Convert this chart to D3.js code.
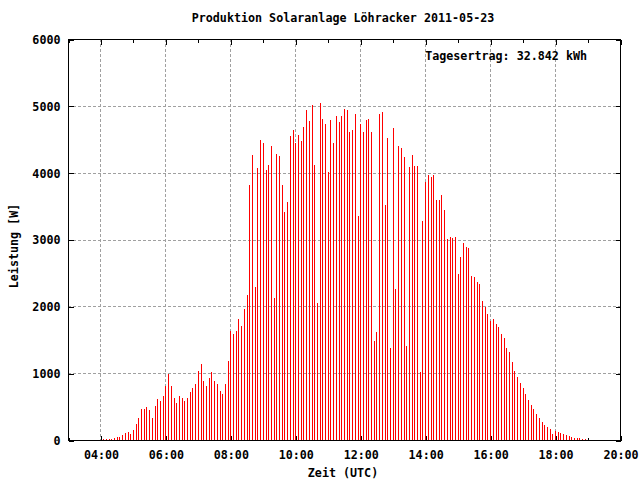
<!DOCTYPE html>
<html><head><meta charset="utf-8">
<script src="https://cdn.jsdelivr.net/npm/d3@7"></script>
<style>body{margin:0;background:#fff}svg text{font-family:"DejaVu Sans Mono","Liberation Mono",monospace;font-weight:bold;font-size:11.7px;fill:#000}</style>
</head><body>
<script>
const title = "Produktion Solaranlage Löhracker 2011-05-23";
const yLabel = "Leistung [W]";
const xLabel = "Zeit (UTC)";
const yieldLabel = "Tagesertrag: 32.842 kWh";
const day = "2011-05-23";
const firstSample = "04:05";
const stepMinutes = 5;
const power = [
  15,15,15,15,30,45,45,75,105,120,90,150,240,330,465,465,495,450,330,510,615,585,660,810,990,810,630,555,660,630,585,630,720,780,840,
  1033,1137,883,808,928,1018,883,838,733,688,838,1182,1631,1586,1631,1811,1706,1960,2170,3816,4265,2290,4070,4490,4450,4040,4115,4400,2125,4280,4250,3816,3412,3562,4549,4639,
  4439,4564,4474,4684,4938,4774,5013,4115,2050,5043,4803,4729,4010,4789,4444,4848,4759,4848,4953,4938,4609,4639,4878,3352,4729,4609,4789,4803,4609,1481,1616,4878,4908,3516,4519,1377,4669,
  2260,4400,4370,4235,1407,4085,4265,4100,4100,1018,3277,3861,3966,3936,3966,3591,3591,3666,3442,3008,3038,3023,3038,2484,2738,2948,2888,2873,2454,2439,2364,2334,2080,1990,1885,1781,1811,
  1736,1691,1586,1526,1377,1317,1167,1033,943,853,778,688,599,524,464,389,329,269,224,195,165,90,135,120,105,90,75,60,45,30,30,30,15,15
];
const xTickLabels = ["04:00","06:00","08:00","10:00","12:00","14:00","16:00","18:00","20:00"];
const yTickValues = [0,1000,2000,3000,4000,5000,6000];
const xDomain = ["03:00","20:00"];

const W = 640, H = 480;
const L = 68, R = 620, T = 39, B = 440;
const parse = s => new Date(`${day}T${s}:00Z`);
const t0 = parse(firstSample);
const samples = power.map((v, i) => ({t: new Date(+t0 + i * stepMinutes * 60000), v}));

const svg = d3.select("body").append("svg").attr("width", W).attr("height", H)
  .attr("shape-rendering", "crispEdges");

const x = d3.scaleUtc().domain(xDomain.map(parse)).range([L, R]);
const y = d3.scaleLinear().domain([0, 6000]).range([B, T]);

const majorX = xTickLabels.map(parse);
const minorX = d3.utcHour.range(parse(xDomain[0]), parse(xDomain[1])).filter(d => d.getUTCHours() % 2 === 1);

// grid
const grid = svg.append("g").attr("stroke", "#a0a0a0").attr("stroke-dasharray", "3,2").attr("stroke-width", 1);
majorX.filter(d => x(d) < R - 1).forEach(d => {
  const xx = Math.round(x(d)) + 0.5;
  grid.append("line").attr("x1", xx).attr("x2", xx).attr("y1", T).attr("y2", B);
});
yTickValues.filter(v => v > 0 && v < 6000).forEach(v => {
  const yy = Math.round(y(v)) + 0.5;
  grid.append("line").attr("x1", L).attr("x2", R).attr("y1", yy).attr("y2", yy);
});

// axes with inward ticks (drawn before impulses)
const fmt = d3.utcFormat("%H:%M");
const axB = svg.append("g").attr("transform", `translate(0.5,${B + 0.5})`)
  .call(d3.axisBottom(x).tickValues(majorX).tickFormat(fmt).tickSizeInner(-5).tickSizeOuter(0).tickPadding(13));
const axT = svg.append("g").attr("transform", `translate(0.5,${T + 0.5})`)
  .call(d3.axisTop(x).tickValues(majorX).tickFormat("").tickSizeInner(-5).tickSizeOuter(0));
const axBm = svg.append("g").attr("transform", `translate(0.5,${B + 0.5})`)
  .call(d3.axisBottom(x).tickValues(minorX).tickFormat("").tickSizeInner(-3).tickSizeOuter(0));
const axTm = svg.append("g").attr("transform", `translate(0.5,${T + 0.5})`)
  .call(d3.axisTop(x).tickValues(minorX).tickFormat("").tickSizeInner(-3).tickSizeOuter(0));
const axL = svg.append("g").attr("transform", `translate(${L + 0.5},0.5)`)
  .call(d3.axisLeft(y).tickValues(yTickValues).tickFormat(d3.format("d")).tickSizeInner(-5).tickSizeOuter(0).tickPadding(12));
const axR = svg.append("g").attr("transform", `translate(${R + 0.5},0.5)`)
  .call(d3.axisRight(y).tickValues(yTickValues).tickFormat("").tickSizeInner(-5).tickSizeOuter(0));
[axB, axT, axBm, axTm, axL, axR].forEach(a => {
  a.select(".domain").remove();
  a.selectAll("line").attr("stroke", "#000");
  a.selectAll("text").attr("font-family", null).attr("font-size", null).attr("fill", "#000");
});
axB.selectAll("text").attr("dy", null).attr("y", 18);
axL.selectAll("text").attr("dy", "0.33em").attr("x", -8);

// impulses
svg.append("g").attr("fill", "#ff0000").selectAll("rect").data(samples).join("rect")
  .attr("x", d => Math.round(x(d.t)))
  .attr("y", d => Math.round(y(d.v)))
  .attr("width", 1)
  .attr("height", d => B - Math.round(y(d.v)));

// frame
svg.append("rect").attr("x", L + 0.5).attr("y", T + 0.5).attr("width", R - L).attr("height", B - T)
  .attr("fill", "none").attr("stroke", "#000").attr("stroke-width", 1);

// texts
svg.append("text").attr("x", 343).attr("y", 22).attr("text-anchor", "middle").text(title);
svg.append("text").attr("x", 343).attr("y", 477).attr("text-anchor", "middle").text(xLabel);
svg.append("text").attr("transform", "translate(17.5,246) rotate(-90)").attr("text-anchor", "middle").text(yLabel);
svg.append("text").attr("x", 587).attr("y", 60).attr("text-anchor", "end").text(yieldLabel);
</script>
</body></html>
